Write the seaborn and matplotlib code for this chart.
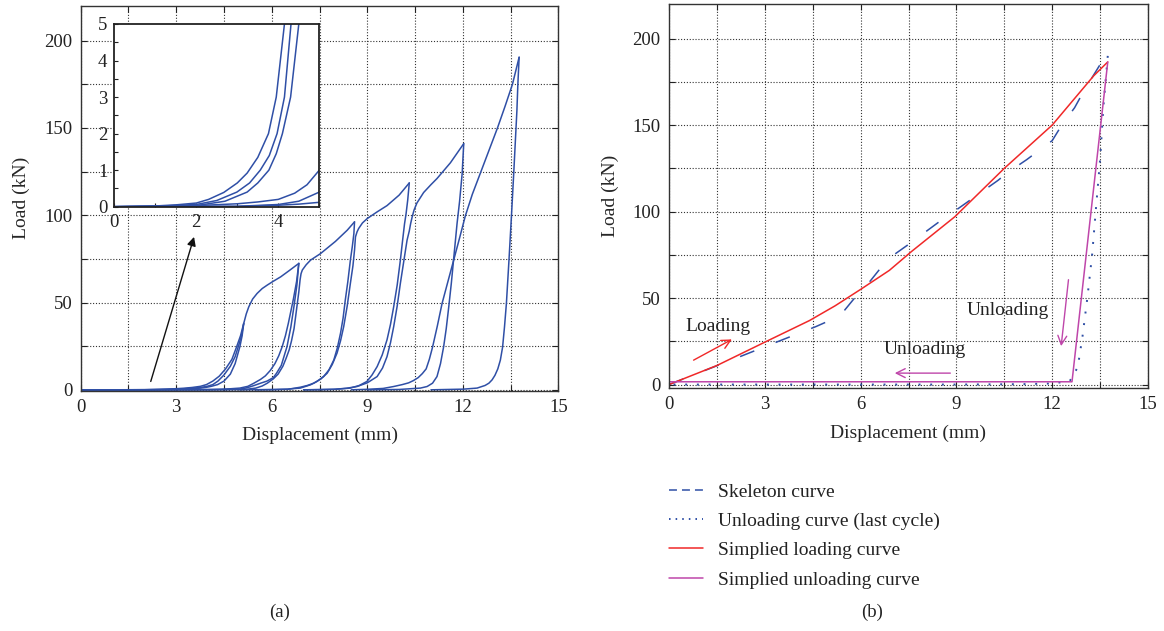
import numpy as np
import pandas as pd
import matplotlib
matplotlib.use("Agg")
import matplotlib.pyplot as plt
from matplotlib.lines import Line2D
import seaborn as sns
from matplotlib.ticker import MultipleLocator

# ---------------- data: panel (a) hysteresis branches ----------------
a1_x = [0, 0.5, 1.0, 1.5, 2.0, 2.3, 2.67, 3.0, 3.24, 3.5, 3.76, 3.95, 4.15, 4.35, 4.55, 4.75, 4.9, 5.02, 5.12]
a1_y = [0, 0.01, 0.02, 0.05, 0.1, 0.2, 0.39, 0.65, 0.92, 1.35, 2.0, 3.0, 5.0, 7.8, 12.0, 17.5, 24.8, 31.0, 38.0]
b1_x = [0, 1.0, 2.0, 2.5, 2.99, 3.3, 3.56, 3.78, 3.97, 4.15, 4.31, 4.5, 4.7, 4.85, 4.95, 5.05, 5.12]
b1_y = [0, 0.01, 0.06, 0.17, 0.4, 0.65, 1.0, 1.4, 2.0, 3.0, 5.0, 8.5, 13.5, 19.0, 24.8, 31.0, 38.0]
c1_x = [0, 1.0, 2.0, 2.7, 3.24, 3.5, 3.77, 3.95, 4.1, 4.3, 4.5, 4.7, 4.85, 5.0, 5.07, 5.12,
        5.2, 5.28, 5.4, 5.54, 5.7, 5.86, 6.05, 6.28, 6.55, 6.85]
c1_y = [0, 0.005, 0.03, 0.15, 0.4, 0.65, 1.0, 1.45, 2.0, 3.0, 5.0, 9.0, 15.0, 24.8, 31.0, 38.0,
        43.5, 47.6, 52.0, 55.2, 58.0, 60.0, 62.2, 64.7, 68.3, 72.4]
d2_x = [0, 2.0, 3.0, 3.5, 4.0, 4.4, 4.7, 5.0, 5.25, 5.44, 5.65, 5.8, 5.95, 6.1, 6.22, 6.33,
        6.43, 6.52, 6.6, 6.68, 6.78, 6.85]
d2_y = [0, 0.03, 0.08, 0.13, 0.2, 0.37, 0.6, 1.0, 2.0, 3.8, 6.0, 8.0, 11.0, 15.0, 19.5, 24.8,
        31.0, 38.0, 45.0, 52.0, 62.0, 72.4]
e2_x = [6.85, 6.79, 6.7, 6.6, 6.48, 6.3, 6.15, 6.05, 5.85, 5.65, 5.45, 5.3, 5.15, 5.0, 4.5, 4.0, 3.0, 0]
e2_y = [72.4, 60, 48, 36, 24.8, 14, 9.5, 7, 5, 3.8, 2.5, 1.6, 0.9, 0.4, 0.15, 0.06, 0.01, 0]
f3_x = [0, 3.0, 4.0, 4.5, 5.0, 5.25, 5.5, 5.7, 5.86, 6.05, 6.2, 6.35, 6.45, 6.55, 6.62, 6.7,
        6.75, 6.8, 6.85, 6.89, 6.92, 6.96, 7.08, 7.22, 7.53, 8.0, 8.37, 8.6]
f3_y = [0, 0.01, 0.04, 0.07, 0.12, 0.4, 1.0, 2.2, 3.8, 6.3, 9.0, 13.5, 18.0, 23.0, 28.0, 35.0,
        41.9, 49.0, 56.0, 63.0, 66.5, 68.6, 71.6, 74.3, 78.0, 85.0, 91.4, 96.2]
u3_x = [8.6, 8.58, 8.53, 8.47, 8.39, 8.31, 8.24, 8.16, 8.06, 7.95, 7.8, 7.63, 7.42, 7.22, 6.9, 6.5, 6.0, 5.0]
u3_y = [96.2, 89.5, 82, 74.3, 62, 51.4, 41, 32.4, 24, 17.1, 11.5, 7.6, 4.8, 2.9, 1.0, 0.4, 0.15, 0]
r4_x = [5.5, 6.0, 6.5, 6.9, 7.12, 7.32, 7.54, 7.74, 7.9, 8.05, 8.16, 8.26, 8.37, 8.47, 8.55, 8.6,
        8.63, 8.68, 8.73, 8.85, 9.0, 9.3, 9.62, 10.0, 10.32]
r4_y = [0, 0.1, 0.3, 1.5, 2.5, 3.8, 6.2, 9.5, 14.5, 21.0, 28.0, 36.2, 48.0, 61.0, 71.0, 80.0,
        87.6, 90.5, 92.4, 95.6, 98.1, 101.8, 105.5, 111.5, 118.5]
u4_x = [10.32, 10.27, 10.22, 10.17, 10.1, 10.04, 9.94, 9.83, 9.73, 9.62, 9.47, 9.31, 9.15, 8.99, 8.75, 8.47, 8.0, 7.0]
u4_y = [118.5, 108.6, 101, 95, 84, 74.3, 60, 47.6, 37.5, 28.6, 20, 13.3, 8.5, 4.8, 2.5, 1.0, 0.3, 0]
r5_x = [7.0, 7.5, 7.95, 8.35, 8.68, 9.0, 9.31, 9.48, 9.62, 9.73, 9.83, 9.94, 10.04, 10.15, 10.25,
        10.32, 10.36, 10.41, 10.47, 10.56, 10.77, 11.0, 11.19, 11.61, 12.03]
r5_y = [0, 0.1, 0.3, 0.9, 1.9, 4.0, 7.6, 12.5, 19, 27, 36.2, 48, 61, 74, 85.7,
        91, 95, 99, 103, 107, 113, 117.5, 121, 130, 141]
u5_x = [12.03, 11.98, 11.9, 11.82, 11.71, 11.64, 11.56, 11.48, 11.4, 11.3, 11.19, 11.05, 10.88, 10.67, 10.0, 9.0]
u5_y = [141, 123.8, 108, 95.2, 74.3, 61, 47.6, 35, 24.8, 15, 7.6, 3.8, 1.9, 1.0, 0.2, 0]
r6_x = [8.5, 9.0, 9.5, 9.83, 10.1, 10.3, 10.45, 10.6, 10.73, 10.85, 10.95, 11.05, 11.2, 11.35,
        11.53, 11.71, 11.9, 12.08, 12.3, 12.55, 12.82, 13.09, 13.33, 13.56, 13.77]
r6_y = [0, 0.3, 0.8, 1.9, 3.0, 4.0, 5.3, 7.0, 9.3, 12.0, 17.5, 24.4, 36.5, 49.5,
        61.8, 74, 87, 99.6, 112, 124, 137, 150, 162.5, 175, 190.5]
u6_x = [13.77, 13.73, 13.7, 13.65, 13.6, 13.53, 13.45, 13.37, 13.31, 13.25, 13.18, 13.1, 13.01,
        12.92, 12.82, 12.7, 12.45, 12.03, 11.0]
u6_y = [190.5, 175, 160, 142, 124, 100, 74, 49.5, 36, 24.4, 17, 12, 8.3,
        5.7, 3.8, 2.5, 1.0, 0.4, 0]

branches = {
    "A1": (a1_x, a1_y), "B1": (b1_x, b1_y), "C1": (c1_x, c1_y),
    "D2": (d2_x, d2_y), "E2": (e2_x, e2_y), "F3": (f3_x, f3_y),
    "U3": (u3_x, u3_y), "R4": (r4_x, r4_y), "U4": (u4_x, u4_y),
    "R5": (r5_x, r5_y), "U5": (u5_x, u5_y), "R6": (r6_x, r6_y),
    "U6": (u6_x, u6_y),
}

# ---------------- data: panel (b) ----------------
skel_x = [0, 2.0, 3.5, 4.6, 5.15, 5.5, 5.9, 6.2, 6.85, 7.5, 8.6, 9.0, 10.3, 10.6, 11.2, 12.0, 12.3, 12.7, 13.0, 13.5, 13.75]
skel_y = [0, 14.5, 25.5, 33.5, 38, 43, 52, 57.5, 72.5, 81, 96, 101, 118, 122.5, 130, 141, 150, 160, 170, 185, 190]
unl_x = [13.74, 13.6, 13.5, 13.38, 13.25, 13.1, 12.95, 12.8, 12.55, 12.0, 11.0, 9.0, 0]
unl_y = [190, 160, 130, 104, 75, 50, 28, 10, 2, 0.6, 0.2, 0, 0]
sload_x = [0, 1.5, 3.0, 4.4, 5.2, 6.0, 6.9, 7.6, 8.95, 10.5, 12.0, 13.3, 13.74]
sload_y = [0, 11, 24.5, 37, 45.5, 55, 66, 77, 97, 125, 150, 178.5, 186.5]
sunl_x = [13.74, 12.62, 0]
sunl_y = [186.5, 1.6, 1.6]

legend_labels = ["Skeleton curve", "Unloading curve (last cycle)",
                 "Simplied loading curve", "Simplied unloading curve"]

BLUE = "#2f4fa6"
RED = "#f02828"
MAG = "#bf46aa"

W, H = 1164, 631

sns.set_theme(style="white")
plt.rcParams["font.family"] = ["Liberation Serif", "DejaVu Serif"]
plt.rcParams["axes.edgecolor"] = "#222222"
plt.rcParams["text.color"] = "#222222"
plt.rcParams["xtick.color"] = "#222222"
plt.rcParams["ytick.color"] = "#222222"

fig = plt.figure(figsize=(W / 100, H / 100), dpi=100)
axL = fig.add_axes([80.7 / W, 1 - 390.7 / H, 477.6 / W, 385 / H])
axR = fig.add_axes([669 / W, 1 - 388 / H, 479 / W, 384 / H])

rows = []
for name, (xs, ys) in branches.items():
    for i, (xv, yv) in enumerate(zip(xs, ys)):
        rows.append({"branch": name, "order": i, "x": xv, "y": yv})
dfL = pd.DataFrame(rows)


def style(ax, ylo):
    ax.set_xlim(0, 15)
    ax.set_ylim(ylo, 220)
    ax.xaxis.set_major_locator(MultipleLocator(3))
    ax.xaxis.set_minor_locator(MultipleLocator(1.5))
    ax.yaxis.set_major_locator(MultipleLocator(50))
    ax.yaxis.set_minor_locator(MultipleLocator(25))
    ax.grid(which="both", linestyle=(0, (1, 1.6)), color="#333333", lw=0.8)
    ax.tick_params(which="both", direction="in", top=True, right=True,
                   bottom=True, left=True, length=4, width=0.8,
                   labelsize=13.5, pad=6)
    for s in ax.spines.values():
        s.set_linewidth(1.0)
        s.set_color("#333333")
    ax.set_xlabel("Displacement (mm)", fontsize=14, labelpad=8)
    ax.set_ylabel("Load (kN)", fontsize=14, labelpad=10)


sns.lineplot(data=dfL, x="x", y="y", units="branch", estimator=None,
             sort=False, color=BLUE, lw=1.1, ax=axL)
style(axL, -0.5)
axL.annotate("", xy=(3.56, 87.6), xytext=(2.2, 4.8),
             arrowprops=dict(arrowstyle="-|>", color="#111111", lw=1.0,
                             mutation_scale=13, shrinkA=0, shrinkB=0))

# inset
axI = fig.add_axes([114.3 / W, 1 - 206.7 / H, 205 / W, 182.7 / H])
axI.set_facecolor("white")
sns.lineplot(data=dfL, x="x", y="y", units="branch", estimator=None,
             sort=False, color=BLUE, lw=1.1, ax=axI)
axI.set_xlim(0, 5)
axI.set_ylim(0, 5)
axI.xaxis.set_major_locator(MultipleLocator(2))
axI.xaxis.set_minor_locator(MultipleLocator(1))
axI.yaxis.set_major_locator(MultipleLocator(1))
axI.yaxis.set_minor_locator(MultipleLocator(0.5))
axI.tick_params(which="both", direction="in", bottom=True, left=True,
                length=3, width=0.8, labelsize=13.5, pad=5)
axI.set_xlabel("")
axI.set_ylabel("")
for s in axI.spines.values():
    s.set_linewidth(1.3)
    s.set_color("#222222")

# panel (b)
sns.lineplot(x=skel_x, y=skel_y, sort=False, estimator=None, color=BLUE,
             lw=1.1, linestyle=(0, (10, 15)), ax=axR)
sns.lineplot(x=unl_x, y=unl_y, sort=False, estimator=None, color=BLUE,
             lw=1.4, linestyle=(0, (1, 5)), ax=axR)
sns.lineplot(x=sload_x, y=sload_y, sort=False, estimator=None, color=RED,
             lw=1.1, ax=axR)
sns.lineplot(x=sunl_x, y=sunl_y, sort=False, estimator=None, color=MAG,
             lw=1.1, ax=axR)
style(axR, -2)

handles = [
    Line2D([], [], color=BLUE, lw=1.1, linestyle=(0, (5.2, 3.3))),
    Line2D([], [], color=BLUE, lw=1.4, linestyle=(0, (0.8, 2.6))),
    Line2D([], [], color=RED, lw=1.1),
    Line2D([], [], color=MAG, lw=1.1),
]
fig.legend(handles, legend_labels, loc="upper left", bbox_to_anchor=(669 / W, 1 - 483 / H),
           frameon=False, fontsize=14, handlelength=1.75, handletextpad=0.75,
           labelspacing=0.6, borderpad=0, borderaxespad=0)

axR.text(0.5, 33.7, "Loading", fontsize=14, ha="left", va="center")
axR.annotate("", xy=(1.97, 26.1), xytext=(0.77, 14.1),
             arrowprops=dict(arrowstyle="->", color=RED, lw=1.0,
                             mutation_scale=16, shrinkA=0, shrinkB=0))
axR.text(6.73, 20.0, "Unloading", fontsize=14, ha="left", va="center")
axR.annotate("", xy=(7.07, 6.6), xytext=(8.81, 6.6),
             arrowprops=dict(arrowstyle="->", color=MAG, lw=1.0,
                             mutation_scale=16, shrinkA=0, shrinkB=0))
axR.text(9.32, 43.0, "Unloading", fontsize=14, ha="left", va="center")
axR.annotate("", xy=(12.28, 22.2), xytext=(12.51, 60.6),
             arrowprops=dict(arrowstyle="->", color=MAG, lw=1.0,
                             mutation_scale=16, shrinkA=0, shrinkB=0))

fig.text(280 / W, 1 - 612 / H, "(a)", fontsize=13.5, ha="center", va="center")
fig.text(872 / W, 1 - 612 / H, "(b)", fontsize=13.5, ha="center", va="center")

fig.savefig("out.png", dpi=100)
